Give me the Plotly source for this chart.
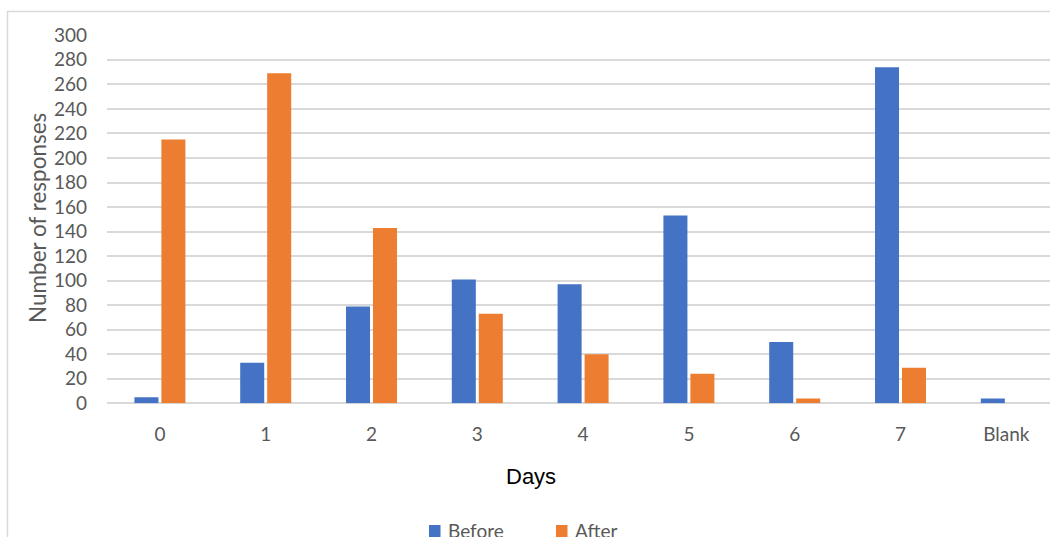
import plotly.graph_objects as go

# Survey responses by number of days, before and after
days = ["0", "1", "2", "3", "4", "5", "6", "7", "Blank"]
before = [5, 33, 79, 101, 97, 153, 50, 274, 4]
after = [215, 269, 143, 73, 40, 24, 4, 29, 0]
y_ticks = list(range(0, 301, 20))
series_names = ["Before", "After"]

W, H = 1050, 537
BLUE = "#4472C4"
ORANGE = "#ED7D31"
GRID = "#D9D9D9"
TEXT = "#595959"
FONT = "Lato"


def px_x(p):
    return p / W


def px_y(p):
    return 1 - p / H


fig = go.Figure()
fig.add_trace(go.Bar(name=series_names[0], x=days, y=before, marker=dict(color=BLUE, line=dict(width=0))))
fig.add_trace(go.Bar(name=series_names[1], x=days, y=after, marker=dict(color=ORANGE, line=dict(width=0))))

# Legend drawn as key squares plus labels along the bottom edge
legend_shapes = []
legend_notes = []
for name, color, left in [(series_names[0], BLUE, 429), (series_names[1], ORANGE, 556)]:
    legend_shapes.append(
        dict(
            type="rect",
            xref="paper",
            yref="paper",
            x0=px_x(left),
            x1=px_x(left + 11.5),
            y0=px_y(537),
            y1=px_y(525),
            line=dict(width=0),
            fillcolor=color,
        )
    )
    legend_notes.append(
        dict(
            text=name,
            xref="paper",
            yref="paper",
            x=px_x(left + 16.5),
            y=px_y(530.5),
            xanchor="left",
            yanchor="middle",
            showarrow=False,
            font=dict(family=FONT, size=19, color=TEXT),
        )
    )

fig.update_layout(
    width=W,
    height=H,
    margin=dict(l=0, r=0, t=0, b=0, autoexpand=False),
    paper_bgcolor="white",
    plot_bgcolor="white",
    barmode="group",
    bargap=0.49,
    bargroupgap=0.11,
    font=dict(family=FONT, color=TEXT, size=19),
    showlegend=False,
    xaxis=dict(
        domain=[px_x(107), 1],
        range=[-0.5, 8.413],
        showgrid=False,
        showline=False,
        zeroline=False,
        ticks="",
        ticklabelstandoff=18,
        tickfont=dict(family=FONT, size=19, color=TEXT),
    ),
    yaxis=dict(
        domain=[px_y(403.3), px_y(35.3)],
        range=[0, 300],
        tickvals=y_ticks,
        showgrid=True,
        gridcolor=GRID,
        gridwidth=1.5,
        zeroline=True,
        zerolinecolor=GRID,
        zerolinewidth=1.5,
        showline=False,
        ticks="",
        ticklabelstandoff=19,
        tickfont=dict(family=FONT, size=19, color=TEXT),
    ),
    shapes=[
        dict(
            type="rect",
            xref="paper",
            yref="paper",
            x0=px_x(7.5),
            x1=1.02,
            y0=-0.05,
            y1=px_y(11.5),
            line=dict(color=GRID, width=1.5),
            fillcolor="rgba(0,0,0,0)",
            layer="below",
        )
    ]
    + legend_shapes,
    annotations=[
        dict(
            text="Number of responses",
            xref="paper",
            yref="paper",
            x=px_x(37),
            y=px_y(218),
            xanchor="center",
            yanchor="middle",
            textangle=-90,
            showarrow=False,
            font=dict(family=FONT, size=22.5, color=TEXT),
        ),
        dict(
            text="Days",
            xref="paper",
            yref="paper",
            x=px_x(531),
            y=px_y(476),
            xanchor="center",
            yanchor="middle",
            showarrow=False,
            font=dict(family="Liberation Sans", size=22, color="black"),
        ),
    ]
    + legend_notes,
)

fig.write_html("out.html")
